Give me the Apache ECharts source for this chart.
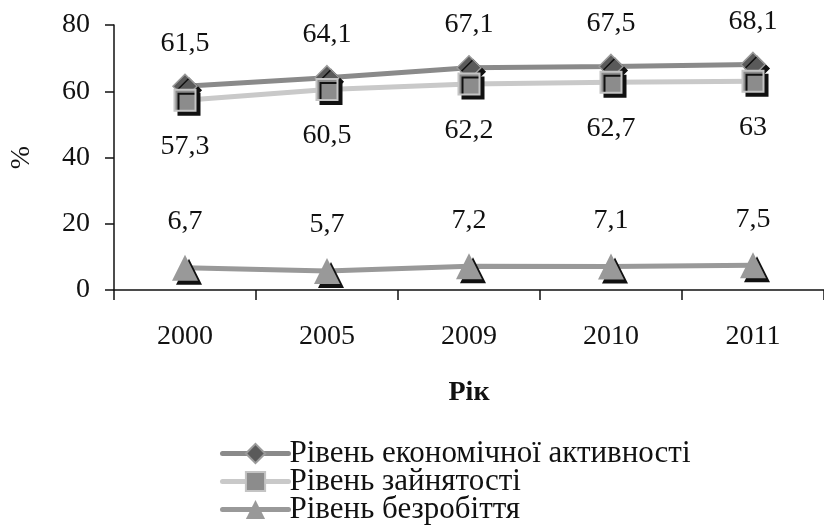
<!DOCTYPE html>
<html><head><meta charset="utf-8">
<script src="https://cdn.jsdelivr.net/npm/echarts@6/dist/echarts.min.js"></script>
<style>html,body{margin:0;padding:0;background:#fff}#c{width:824px;height:525px}</style>
</head><body><div id="c"></div>
<script>
var categories = ['2000', '2005', '2009', '2010', '2011'];
var activity = [61.5, 64.1, 67.1, 67.5, 68.1];
var employment = [57.3, 60.5, 62.2, 62.7, 63];
var unemployment = [6.7, 5.7, 7.2, 7.1, 7.5];
var seriesNames = ['Рівень економічної активності', 'Рівень зайнятості', 'Рівень безробіття'];
var yTicks = [0, 20, 40, 60, 80];

var FONT = '"Liberation Serif", "Times New Roman", serif';
function fmt(p) { return String(p.value).replace('.', ','); }
var shadow = { shadowColor: '#111', shadowBlur: 0, shadowOffsetX: 4, shadowOffsetY: 4 };

var chart = echarts.init(document.getElementById('c'), null, { renderer: 'canvas' });
chart.setOption({
  animation: false,
  backgroundColor: '#fff',
  textStyle: { fontFamily: FONT },
  grid: { left: 114, width: 718, top: 25, bottom: 235, containLabel: false },
  legend: {
    orient: 'vertical', left: 220, top: 438, height: 100, padding: 0, itemGap: -3,
    itemWidth: 66, itemHeight: 24,
    lineStyle: { width: 5, cap: 'round' },
    textStyle: { fontFamily: FONT, fontSize: 31, lineHeight: 27, color: '#111', padding: [0, 0, 0, -4] },
    data: seriesNames
  },
  xAxis: {
    type: 'category', data: categories,
    name: 'Рік', nameLocation: 'middle', nameGap: 89,
    nameTextStyle: { fontFamily: FONT, fontSize: 28, fontWeight: 'bold', color: '#111' },
    axisLine: { lineStyle: { color: '#111', width: 1.5 } },
    axisTick: { show: true, length: 10, lineStyle: { color: '#111', width: 1.5 } },
    axisLabel: { margin: 33, fontFamily: FONT, fontSize: 28, color: '#111' },
    splitLine: { show: false }
  },
  yAxis: {
    type: 'value', min: yTicks[0], max: yTicks[yTicks.length - 1], interval: 20,
    name: '%', nameLocation: 'middle', nameGap: 78, nameRotate: 90,
    nameTextStyle: { fontFamily: FONT, fontSize: 28, color: '#111' },
    axisLine: { show: true, lineStyle: { color: '#111', width: 1.5 } },
    axisTick: { show: true, length: 9, lineStyle: { color: '#111', width: 1.5 } },
    axisLabel: { margin: 24, fontFamily: FONT, fontSize: 28, color: '#111' },
    splitLine: { show: false }
  },
  series: [
    {
      name: seriesNames[0], type: 'line', data: activity, z: 3,
      symbol: 'diamond', symbolSize: 24,
      lineStyle: { color: '#8a8a8a', width: 5, cap: 'round' },
      itemStyle: Object.assign({ color: '#5a5a5a', borderColor: '#9a9a9a', borderWidth: 1.5 }, shadow),
      label: { show: true, position: 'top', distance: 16, formatter: fmt, fontFamily: FONT, fontSize: 28, color: '#111' }
    },
    {
      name: seriesNames[1], type: 'line', data: employment, z: 4,
      symbol: 'rect', symbolSize: 21,
      lineStyle: { color: '#c9c9c9', width: 5, cap: 'round' },
      itemStyle: Object.assign({ color: '#8c8c8c', borderColor: '#c4c4c4', borderWidth: 2 }, shadow),
      label: { show: true, position: 'bottom', distance: 21, formatter: fmt, fontFamily: FONT, fontSize: 28, color: '#111' }
    },
    {
      name: seriesNames[2], type: 'line', data: unemployment, z: 3,
      symbol: 'triangle', symbolSize: 26,
      lineStyle: { color: '#999999', width: 5, cap: 'round' },
      itemStyle: Object.assign({ color: '#999999', borderColor: '#999999', borderWidth: 0 }, shadow),
      label: { show: true, position: 'top', distance: 19, formatter: fmt, fontFamily: FONT, fontSize: 28, color: '#111' }
    }
  ]
});
</script></body></html>
